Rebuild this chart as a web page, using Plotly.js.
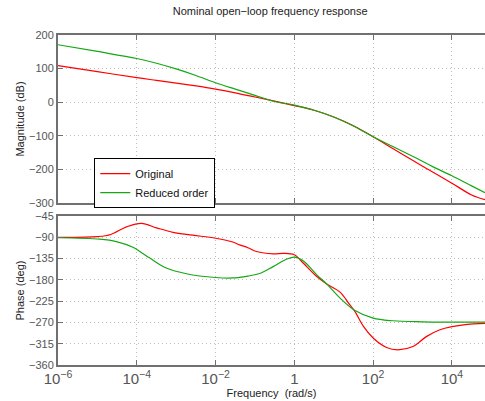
<!DOCTYPE html>
<html>
<head>
<meta charset="utf-8">
<script src="https://cdn.plot.ly/plotly-3.0.1.min.js"></script>
<style>
  html, body { margin: 0; padding: 0; background: #fff; }
  #chart { width: 485px; height: 401px; }
</style>
</head>
<body>
<div id="chart"></div>
<script>
// Frequency grid (log10 of rad/s) for the magnitude curves
const magLogW = [-6, -5, -4, -3.5, -3, -2.5, -2, -1.5, -1, -0.5, 0, 0.5, 1, 1.5, 2, 2.5, 3, 3.5, 4, 4.5, 4.84];
const magOriginal = [109, 91, 73, 65, 57, 48.5, 39, 28, 15.5, 3, -10, -24, -44, -70, -103, -138, -173, -207, -241, -276, -290];
const magReduced  = [171, 151, 130, 116, 99, 79.5, 58, 39, 20.5, 2, -8.5, -24, -44, -71, -103, -132, -161, -191, -219, -249, -269];

// Phase curves, each with its own frequency samples (log10 rad/s)
const phaseOrigLogW = [-6, -5, -4.66, -4.26, -3.88, -3.5, -3.08, -2.58, -2, -1.56, -1.39, -1.18, -0.96, -0.54, -0.28, 0, 0.23, 0.57, 0.82, 1.16, 1.41, 1.54, 1.75, 2, 2.34, 2.63, 3.01, 3.35, 3.68, 4, 4.55, 4.84];
const phaseOriginal = [-90, -88.5, -84, -68, -60.5, -70, -79.5, -85.5, -92, -100, -106, -112, -120, -125, -124, -127, -145, -173, -188.5, -206, -233, -247, -278, -303, -323, -328, -321, -300, -286, -279, -273, -272];
const phaseRedLogW = [-6, -4.94, -4.52, -4.1, -3.67, -3.25, -2.74, -2, -1.56, -1.18, -0.86, -0.54, -0.19, 0, 0.23, 0.57, 0.82, 1.16, 1.54, 2, 2.49, 3.25, 4.84];
const phaseReduced = [-91, -94, -99, -111, -134, -155, -167, -175, -176, -172, -166, -152, -136, -132, -140, -169.5, -188.5, -218.6, -245, -261, -266.5, -268.7, -269.5];

const magTicks = [200, 100, 0, -100, -200, -300];
const phaseTicks = [-45, -90, -135, -180, -225, -270, -315, -360];
const seriesNames = ['Original', 'Reduced order'];

const toW = a => a.map(v => Math.pow(10, v));
const red = '#ff0000';
const green = '#14a814';
const lineW = 1.2;

const traces = [
  { x: toW(magLogW), y: magOriginal, name: seriesNames[0], mode: 'lines',
    line: { color: red, width: lineW, shape: 'spline', smoothing: 1 }, xaxis: 'x', yaxis: 'y' },
  { x: toW(magLogW), y: magReduced, name: seriesNames[1], mode: 'lines',
    line: { color: green, width: lineW, shape: 'spline', smoothing: 1 }, xaxis: 'x', yaxis: 'y' },
  { x: toW(phaseOrigLogW), y: phaseOriginal, name: seriesNames[0], mode: 'lines', showlegend: false,
    line: { color: red, width: lineW, shape: 'spline', smoothing: 1 }, xaxis: 'x2', yaxis: 'y2' },
  { x: toW(phaseRedLogW), y: phaseReduced, name: seriesNames[1], mode: 'lines', showlegend: false,
    line: { color: green, width: lineW, shape: 'spline', smoothing: 1 }, xaxis: 'x2', yaxis: 'y2' }
];

const family = 'Liberation Sans, Arial, sans-serif';
const font = { family: family, size: 11, color: '#555' };
const titleFont = { family: family, size: 11, color: '#222' };
const xRange = [-6, 4.84];
const gridStyle = { showgrid: true, gridcolor: '#bdbdbd', griddash: '1px,3px', gridwidth: 1 };
const commonX = Object.assign({
  type: 'log', range: xRange, dtick: 2, exponentformat: 'power',
  showline: true, linecolor: '#707070', linewidth: 2, mirror: 'ticks',
  ticks: 'inside', ticklen: 5, tickcolor: '#707070', zeroline: false,
  tickfont: { family: family, size: 12, color: '#555' }
}, gridStyle);
const commonY = Object.assign({
  showline: true, linecolor: '#707070', linewidth: 2, mirror: false,
  ticks: 'inside', ticklen: 5, tickcolor: '#707070', zeroline: false,
  tickfont: { family: family, size: 11, color: '#555' }
}, gridStyle);

const layout = {
  width: 485, height: 401,
  margin: { l: 58, r: 0, t: 35, b: 36 },
  paper_bgcolor: '#fff', plot_bgcolor: '#fff',
  font: font,
  title: { text: 'Nominal open\u2212loop frequency response', font: titleFont,
           x: 0.557, xanchor: 'center', y: 0.973, yanchor: 'middle' },
  showlegend: true,
  legend: {
    x: 0.085, y: 0.627, xanchor: 'left', yanchor: 'top',
    bgcolor: '#fff', bordercolor: '#000', borderwidth: 1,
    font: { family: family, size: 11, color: '#111' },
    tracegroupgap: 0, itemwidth: 30
  },
  xaxis: Object.assign({}, commonX, { domain: [0, 1], anchor: 'y', showticklabels: false }),
  yaxis: Object.assign({}, commonY, { domain: [0.4909, 1], range: [-300, 200], tickvals: magTicks,
    title: { text: 'Magnitude (dB)', font: titleFont, standoff: 2 } }),
  xaxis2: Object.assign({}, commonX, { domain: [0, 1], anchor: 'y2',
    title: { text: 'Frequency  (rad/s)', font: titleFont, standoff: 1 } }),
  yaxis2: Object.assign({}, commonY, { domain: [0, 0.4515], range: [-360, -45], tickvals: phaseTicks, anchor: 'x2',
    title: { text: 'Phase (deg)', font: titleFont, standoff: 2 } })
};

Plotly.newPlot('chart', traces, layout, { staticPlot: true, displayModeBar: false });
</script>
</body>
</html>
